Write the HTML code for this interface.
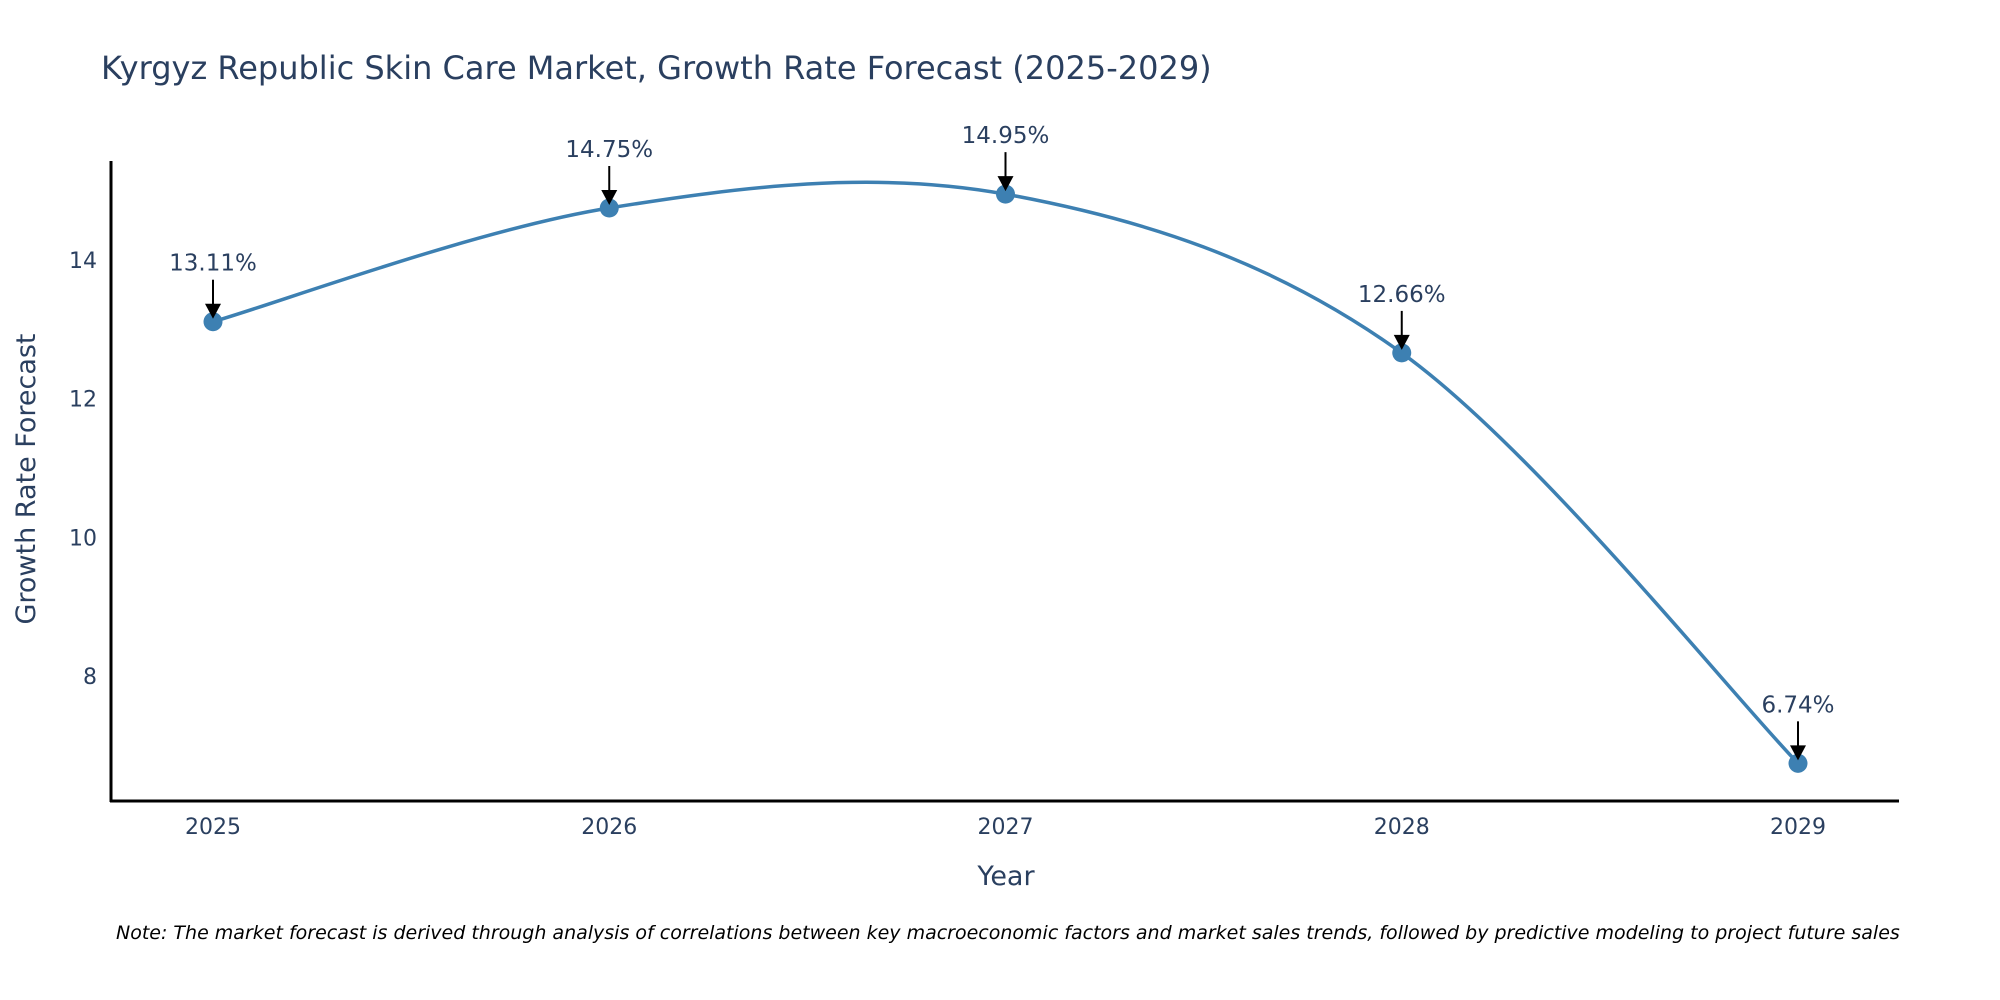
<!DOCTYPE html>
<html><head><meta charset="utf-8"><style>
html,body{margin:0;padding:0;background:#fff;}
svg{display:block;font-family:"DejaVu Sans","Liberation Sans",sans-serif;}
</style></head><body>
<svg id="chart" width="2000" height="1000" viewBox="0 0 2000 1000">
<text x="101" y="79" font-size="32" fill="#2a3f5f">Kyrgyz Republic Skin Care Market, Growth Rate Forecast (2025-2029)</text>
<g id="plot"></g>
<line x1="111" y1="161" x2="111" y2="802" stroke="#000" stroke-width="3"/>
<line x1="110" y1="801" x2="1899" y2="801" stroke="#000" stroke-width="3"/>
<text x="1006" y="885" font-size="27" fill="#2a3f5f" text-anchor="middle">Year</text>
<text transform="translate(35,479) rotate(-90)" font-size="27" fill="#2a3f5f" text-anchor="middle">Growth Rate Forecast</text>
<text x="116" y="939" font-size="19" font-style="italic" fill="#000">Note: The market forecast is derived through analysis of correlations between key macroeconomic factors and market sales trends, followed by predictive modeling to project future sales</text>
</svg>
<script>
const years = ['2025','2026','2027','2028','2029'];
const values = [13.11, 14.75, 14.95, 12.66, 6.74];
const yTicks = [8, 10, 12, 14];
const NS='http://www.w3.org/2000/svg';
const g=document.getElementById('plot');
function xs(i){return 213+i*396.25;}
function ys(v){return 260+(14-v)*69.33;}
function el(t,a,txt){const e=document.createElementNS(NS,t);for(const k in a)e.setAttribute(k,a[k]);if(txt!==undefined)e.textContent=txt;g.appendChild(e);return e;}
yTicks.forEach(t=>{
  const e=el('text',{x:97,y:ys(t)+8,'font-size':22,fill:'#2a3f5f','text-anchor':'end'},String(t));
  
  
});
years.forEach((y,i)=>{
  const e=el('text',{x:xs(i),y:834,'font-size':22,fill:'#2a3f5f','text-anchor':'middle'},y);
  
  
});
const pts=values.map((v,i)=>[xs(i),ys(v)]);
let d='M'+pts[0][0]+','+pts[0][1];
for(let i=0;i<pts.length-1;i++){
  const p0=pts[Math.max(0,i-1)],p1=pts[i],p2=pts[i+1],p3=pts[Math.min(pts.length-1,i+2)];
  const s=1/6;
  const c1=[p1[0]+(p2[0]-p0[0])*s,p1[1]+(p2[1]-p0[1])*s];
  const c2=[p2[0]-(p3[0]-p1[0])*s,p2[1]-(p3[1]-p1[1])*s];
  d+=` C${c1[0]},${c1[1]} ${c2[0]},${c2[1]} ${p2[0]},${p2[1]}`;
}
const line=el('path',{d:d,fill:'none',stroke:'#3d80b2','stroke-width':3.5});


values.forEach((v,i)=>{
  const x=xs(i),y=ys(v);
  const c=el('circle',{cx:x,cy:y,r:9.5,fill:'#3d80b2'});
  
  
  const a=el('line',{x1:x,y1:y-42,x2:x,y2:y-16,stroke:'#000','stroke-width':2});
  
  
  const h=el('polygon',{points:`${x-8},${y-18} ${x+8},${y-18} ${x},${y-3}`,fill:'#000'});
  
  
  const t=el('text',{x:x,y:y-51,'font-size':23,fill:'#2a3f5f','text-anchor':'middle'},v.toFixed(2)+'%');
  
  
});
</script>
</body></html>
